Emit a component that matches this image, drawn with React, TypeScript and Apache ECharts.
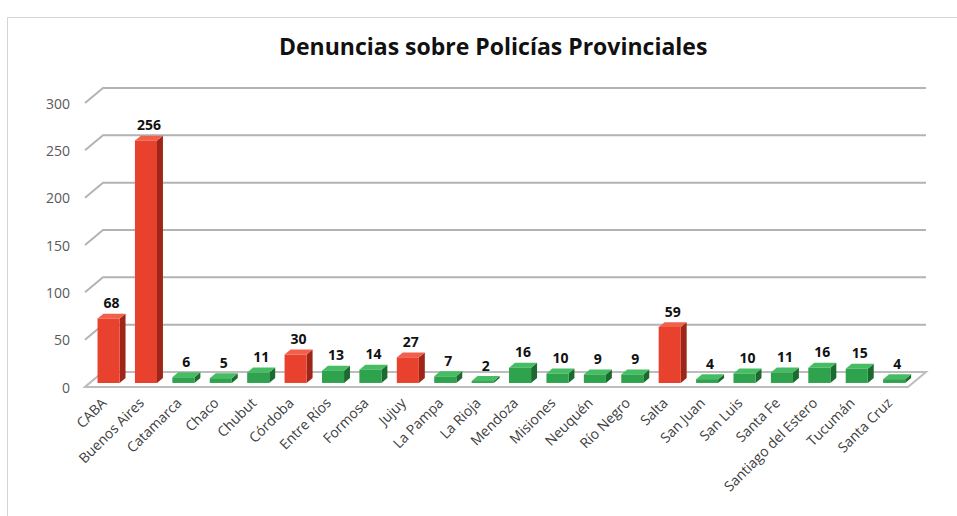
import React, { useEffect, useRef } from "react";
import * as echarts from "echarts";

const categories = [
  "CABA", "Buenos Aires", "Catamarca", "Chaco", "Chubut", "Córdoba", "Entre Ríos",
  "Formosa", "Jujuy", "La Pampa", "La Rioja", "Mendoza", "Misiones", "Neuquén",
  "Río Negro", "Salta", "San Juan", "San Luis", "Santa Fe", "Santiago del Estero",
  "Tucumán", "Santa Cruz",
];
const values = [68, 256, 6, 5, 11, 30, 13, 14, 27, 7, 2, 16, 10, 9, 9, 59, 4, 10, 11, 16, 15, 4];
const highlighted = ["CABA", "Buenos Aires", "Córdoba", "Jujuy", "Salta"];
const yTicks = [0, 50, 100, 150, 200, 250, 300];

const DX = 18;
const DY = -15;
const F0 = 0.27;
const F1 = 0.6;
const FONT = "'Open Sans', 'Noto Sans', sans-serif";

const RED = { front: "#e8412d", side: "#9e2619", top: "#f2604c" };
const GREEN = { front: "#2ea24c", side: "#1b6b2f", top: "#46bd63" };

export default function App() {
  const ref = useRef<HTMLDivElement>(null);
  useEffect(() => {
    const chart = echarts.init(ref.current!, null, { renderer: "svg" });
    const n = categories.length;
    chart.setOption({
      animation: false,
      backgroundColor: "#ffffff",
      title: {
        text: "Denuncias sobre Policías Provinciales",
        left: 274,
        top: 29,
        textStyle: { fontFamily: FONT, fontWeight: "bold", fontSize: 23, color: "#111" },
      },
      graphic: [
        {
          type: "rect",
          left: 5,
          top: 15,
          shape: { width: 1000, height: 600 },
          style: { fill: "none", stroke: "#d4d4d4", lineWidth: 1 },
          silent: true,
        },
      ],
      grid: { left: 85, right: 49, top: 103, bottom: 129 },
      xAxis: {
        type: "category",
        data: categories,
        axisLine: { show: false },
        axisTick: { show: false },
        splitLine: { show: false },
        axisLabel: {
          rotate: 45,
          interval: 0,
          margin: 13,
          color: "#404040",
          fontSize: 14,
          fontFamily: FONT,
        },
      },
      yAxis: {
        type: "value",
        min: 0,
        max: 300,
        interval: 50,
        axisLine: { show: false },
        axisTick: { show: false },
        splitLine: { show: false },
        axisLabel: { margin: 15, color: "#595959", fontSize: 14, fontFamily: FONT },
      },
      series: [
        {
          type: "custom",
          silent: true,
          z: 1,
          data: yTicks.map((t) => [0, t]),
          renderItem: (params: any, api: any) => {
            const t = api.value(1);
            const band = api.size([1, 0])[0];
            const p0 = api.coord([0, t]);
            const p1 = api.coord([n - 1, t]);
            const xl = p0[0] - band / 2;
            const xr = p1[0] + band / 2;
            const y = p0[1];
            return {
              type: "polyline",
              shape: { points: [[xl, y], [xl + DX, y + DY], [xr + DX, y + DY]] },
              style: { stroke: "#b3b3b3", lineWidth: 2, fill: "none" },
            };
          },
        },
        {
          type: "custom",
          silent: true,
          z: 2,
          data: [[0, 0]],
          renderItem: (params: any, api: any) => {
            const band = api.size([1, 0])[0];
            const p0 = api.coord([0, 0]);
            const p1 = api.coord([n - 1, 0]);
            const xl = p0[0] - band / 2;
            const xr = p1[0] + band / 2;
            const y = p0[1];
            return {
              type: "polygon",
              shape: { points: [[xl, y], [xr, y], [xr + DX, y + DY], [xl + DX, y + DY]] },
              style: { fill: "#ffffff", stroke: "#bdbdbd", lineWidth: 2 },
            };
          },
        },
        {
          type: "custom",
          silent: true,
          z: 3,
          data: values.map((v, i) => [i, v]),
          renderItem: (params: any, api: any) => {
            const i = api.value(0);
            const v = api.value(1);
            const c0 = api.coord([i, 0]);
            const c1 = api.coord([i, v]);
            const band = api.size([1, 0])[0];
            const w = band * 0.59;
            const xl = c0[0] - w / 2;
            const xr = c0[0] + w / 2;
            const yb = c0[1];
            const yt = c1[1];
            const ax = F0 * DX, ay = F0 * DY, bx = F1 * DX, by = F1 * DY;
            const col = highlighted.includes(categories[i]) ? RED : GREEN;
            return {
              type: "group",
              children: [
                {
                  type: "polygon",
                  shape: { points: [[xr + ax, yt + ay], [xr + bx, yt + by], [xr + bx, yb + by], [xr + ax, yb + ay]] },
                  style: { fill: col.side },
                },
                {
                  type: "polygon",
                  shape: { points: [[xl + ax, yt + ay], [xr + ax, yt + ay], [xr + bx, yt + by], [xl + bx, yt + by]] },
                  style: { fill: col.top },
                },
                {
                  type: "rect",
                  shape: { x: xl + ax, y: yt + ay, width: w, height: yb - yt },
                  style: { fill: col.front },
                },
                {
                  type: "text",
                  x: (xl + xr) / 2 + (ax + bx) / 2,
                  y: yt + by - 4,
                  style: {
                    text: String(v),
                    fill: "#111",
                    fontFamily: FONT,
                    fontWeight: "bold",
                    fontSize: 14,
                    align: "center",
                    verticalAlign: "bottom",
                  },
                },
              ],
            };
          },
        },
      ],
    });
    return () => chart.dispose();
  }, []);
  return (
    <div
      ref={ref}
      style={{ position: "fixed", left: 0, top: 0, width: 957, height: 516 }}
    />
  );
}
